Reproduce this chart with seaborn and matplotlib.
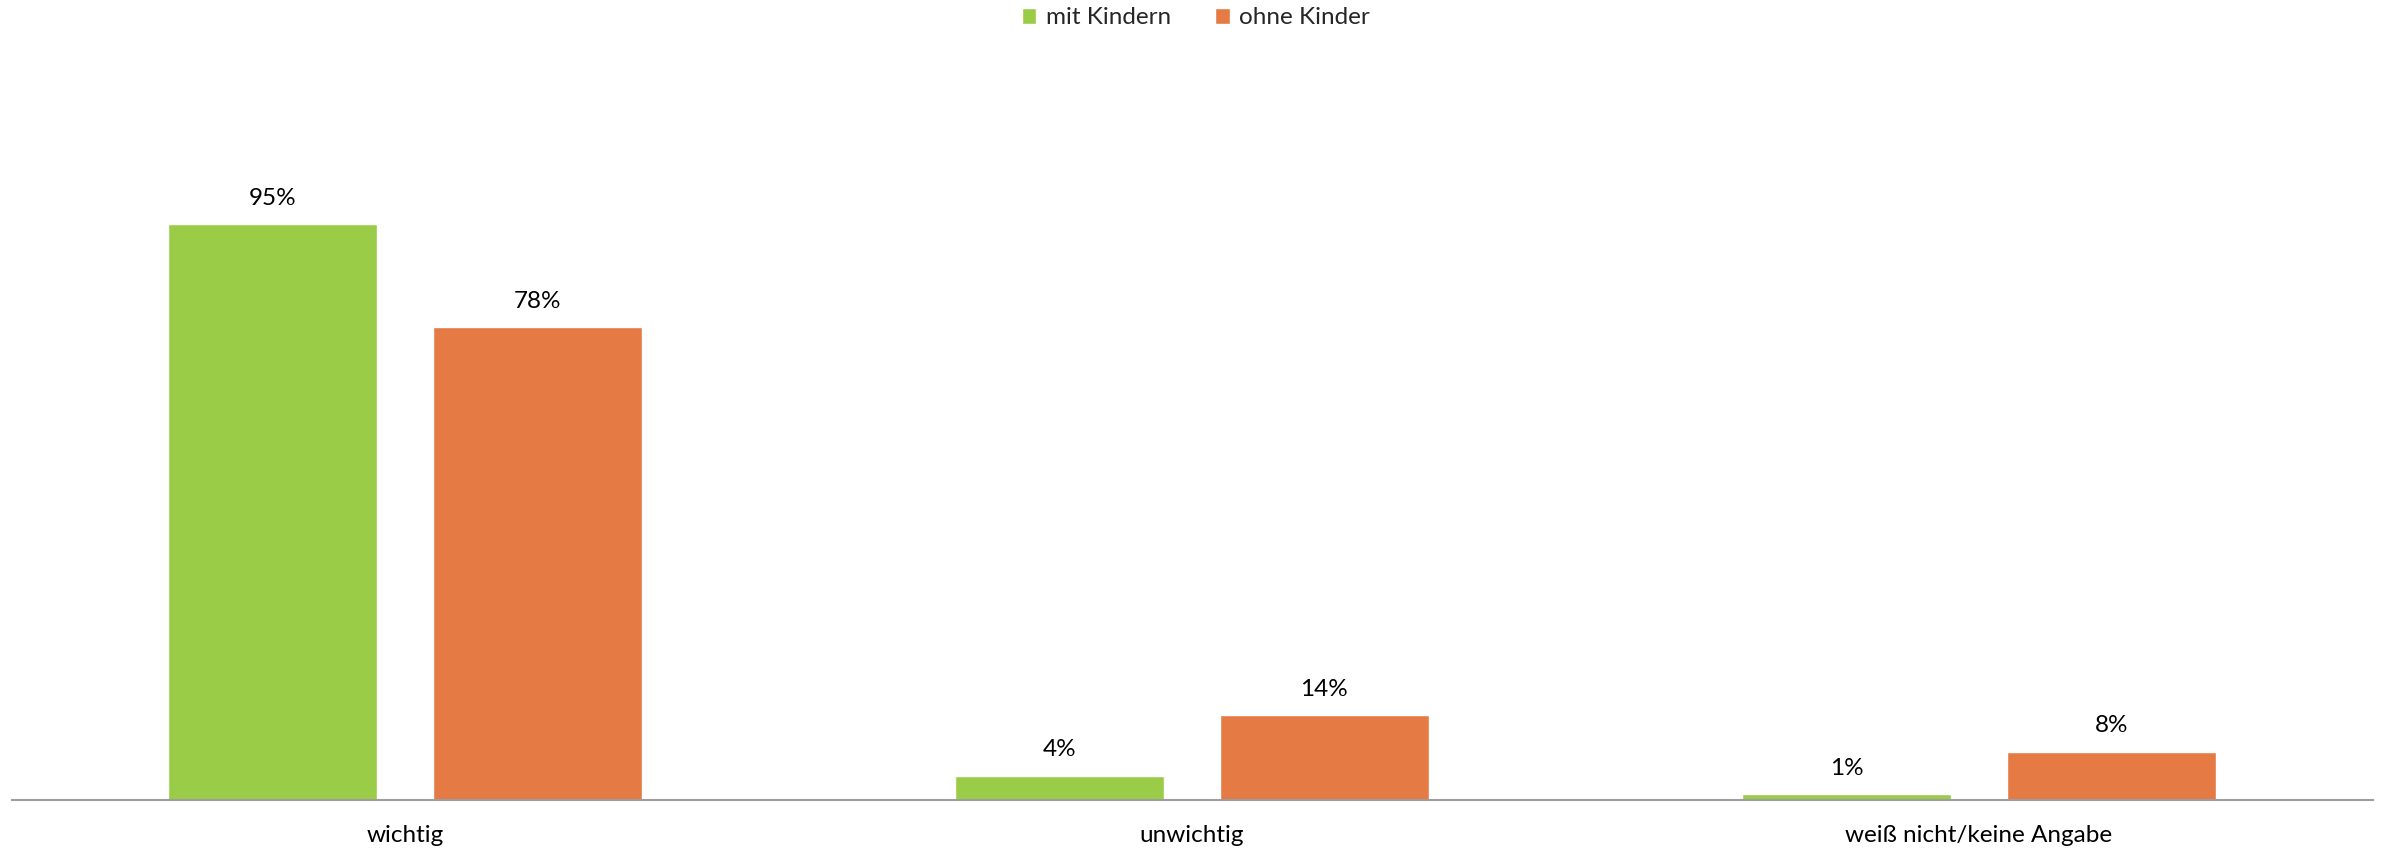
import matplotlib
matplotlib.use("Agg")
import matplotlib.pyplot as plt
import seaborn as sns
import pandas as pd

# ---- data ----
kategorien = ["wichtig", "unwichtig", "weiß nicht/keine Angabe"]
gruppen = ["mit Kindern", "ohne Kinder"]
mit_kindern = [95, 4, 1]
ohne_kinder = [78, 14, 8]
farben = ["#9ACC47", "#E67A45"]

df = pd.DataFrame({
    "kategorie": kategorien * 2,
    "gruppe": [gruppen[0]] * 3 + [gruppen[1]] * 3,
    "wert": mit_kindern + ohne_kinder,
})

sns.set_theme(style="white")
plt.rcParams["font.family"] = ["Lato", "DejaVu Sans"]

fig = plt.figure(figsize=(23.92, 8.49), dpi=100)
ax = fig.add_axes([11.5 / 2392, 49 / 849, 2361 / 2392, 606 / 849])

sns.barplot(data=df, x="kategorie", y="wert", hue="gruppe", order=kategorien,
            hue_order=gruppen, palette=farben, width=0.672, gap=0.21,
            saturation=1, ax=ax, legend=True)

for cont in ax.containers:
    ax.bar_label(cont, labels=[f"{v:.0f}%" for v in cont.datavalues],
                 padding=11, fontsize=17.5, color="#000000")

ax.set_ylim(0, 100)
ax.set_xlim(-0.5, 2.5)
ax.set_xlabel("")
ax.set_ylabel("")
ax.set_yticks([])
ax.tick_params(axis="x", length=0, pad=18, labelsize=17.5, labelcolor="#000000")
for s in ["top", "left", "right"]:
    ax.spines[s].set_visible(False)
ax.spines["bottom"].set_color("#9E9E9E")
ax.spines["bottom"].set_linewidth(1.5)

ax.legend_.remove()
handles, labels = ax.get_legend_handles_labels()
fig.legend(handles, labels, loc="center", bbox_to_anchor=(0.5, 1 - 18 / 849),
           ncol=2, frameon=False, fontsize=17.5, handlelength=0.6, handleheight=0.6,
           handletextpad=0.4, columnspacing=1.8)

fig.savefig("out.png", dpi=100)
